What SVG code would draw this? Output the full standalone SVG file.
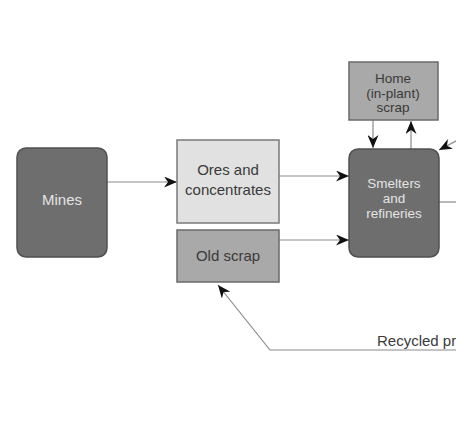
<svg xmlns="http://www.w3.org/2000/svg" width="456" height="426" viewBox="0 0 456 426">
<style>
.dark{fill:#6e6e6e;stroke:#505050;stroke-width:1.5}
.light{fill:#e1e1e1;stroke:#7a7a7a;stroke-width:1.5}
.mid{fill:#a9a9a9;stroke:#6a6a6a;stroke-width:1.5}
text{font-family:"Liberation Sans",Arial,sans-serif;font-size:15px;text-anchor:middle}
.tl{fill:#e4e4e4}
.td{fill:#3a3a3a}
.sm{font-size:13.5px}
.c{fill:none;stroke:#8a8a8a;stroke-width:1.2}
</style>
<defs>
<marker id="ah" markerUnits="userSpaceOnUse" markerWidth="14" markerHeight="11" refX="13" refY="5.5" orient="auto" viewBox="0 0 14 11">
<path d="M0,0 L13,5.5 L0,11 L4,5.5 z" fill="#111"/>
</marker>
</defs>
<rect width="456" height="426" fill="#fff"/>
<g id="connectors">
<path class="c" d="M107,182 L177,182" marker-end="url(#ah)"/>
<path class="c" d="M279,176 L349,176" marker-end="url(#ah)"/>
<path class="c" d="M279,240 L349,240" marker-end="url(#ah)"/>
<path class="c" d="M373,120 L373,148" marker-end="url(#ah)"/>
<path class="c" d="M411,149 L411,121" marker-end="url(#ah)"/>
<path class="c" d="M458,140 L439,150" marker-end="url(#ah)"/>
<path class="c" d="M439,202 L458,202"/>
<path class="c" d="M458,350 L270,350 L218,285" marker-end="url(#ah)"/>
</g>
<g id="mines">
<rect class="dark" x="17" y="148" width="90" height="109" rx="9"/>
<text class="tl" x="62" y="205">Mines</text>
</g>
<g id="ores">
<rect class="light" x="177" y="140" width="102" height="83"/>
<text class="td" x="228" y="175">Ores and</text>
<text class="td" x="228" y="195">concentrates</text>
</g>
<g id="oldscrap">
<rect class="mid" x="177" y="230" width="102" height="52"/>
<text class="td" x="228" y="261">Old scrap</text>
</g>
<g id="home">
<rect class="mid" x="349" y="62" width="89" height="58"/>
<text class="td sm" x="393" y="83">Home</text>
<text class="td sm" x="393" y="97.5">(in-plant)</text>
<text class="td sm" x="393" y="112">scrap</text>
</g>
<g id="smelters">
<rect class="dark" x="349" y="149" width="90" height="108" rx="9"/>
<text class="tl sm" x="394" y="188">Smelters</text>
<text class="tl sm" x="394" y="203">and</text>
<text class="tl sm" x="394" y="218">refineries</text>
</g>
<g id="label">
<text class="td" x="377" y="346" style="text-anchor:start">Recycled pr</text>
</g>
</svg>
